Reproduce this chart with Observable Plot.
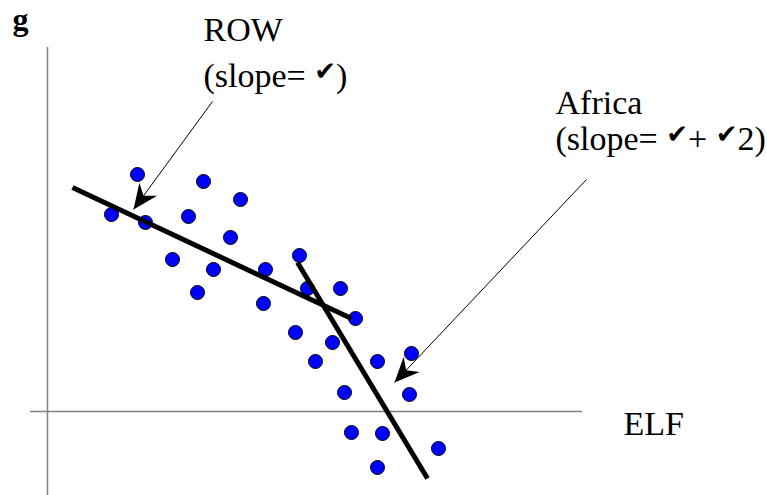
<!DOCTYPE html>
<html>
<head>
<meta charset="utf-8">
<script src="https://cdn.jsdelivr.net/npm/d3@7"></script>
<script src="https://cdn.jsdelivr.net/npm/@observablehq/plot@0.6"></script>
<style>
  html, body { margin: 0; padding: 0; background: #fff; }
  #chart svg { display: block; }
  #chart svg text { font-family: "Liberation Serif", "Tinos", "Times New Roman", "DejaVu Serif", serif !important; }
  #chart svg tspan.chk { font-family: "DejaVu Sans", sans-serif !important; }
</style>
</head>
<body>
<div id="chart"></div>
<script>
// Scatter observations (ELF, g) in chart units
const elf = [1.28, 1.80, 1.96, 2.82, 3.12, 3.86, 3.66, 2.50, 3.32, 3.00, 4.36, 5.04, 4.32, 5.20,
             5.86, 6.16, 4.96, 5.70, 5.36, 6.60, 7.28, 5.94, 7.24, 6.08, 6.70, 7.82, 6.60];
const g   = [3.94, 4.74, 3.78, 3.90, 4.60, 4.24, 3.48, 3.04, 2.84, 2.38, 2.84, 3.12, 2.16, 2.46,
             2.46, 1.86, 1.58, 1.38, 1.00, 1.00, 1.16, 0.38, 0.34, -0.42, -0.44, -0.74, -1.12];

// Fitted lines: [x1, y1, x2, y2]
const lineNames = ["ROW", "Africa"];
const lineEnds  = [[0.50, 4.48, 6.08, 1.86], [5.00, 2.98, 7.60, -1.34]];

// Axis extents
const xAxisLine = [-0.34, 10.70];   // horizontal axis at g = 0
const yAxisLine = [-1.68, 7.28];    // vertical axis at ELF = 0

// Annotation texts and their anchor points
const labelTexts = ["g", "ROW", "(slope= ✔)", "Africa", "(slope= ✔+ ✔2)", "ELF"];
const labelX     = [-0.70, 3.12, 3.12, 10.16, 10.16, 11.52];
const labelY     = [7.83, 7.62, 6.70, 6.16, 5.44, -0.26];

// Callout arrows: from label to line
const arrowFrom = [[3.30, 6.20], [10.78, 4.64]];
const arrowTo   = [[1.72, 4.04], [6.94, 0.58]];

const points = elf.map((x, i) => ({x, y: g[i]}));
const fits = lineNames.map((name, i) => ({name, x1: lineEnds[i][0], y1: lineEnds[i][1], x2: lineEnds[i][2], y2: lineEnds[i][3]}));
const labels = labelTexts.map((text, i) => ({text, x: labelX[i], y: labelY[i], bold: text === "g"}));
const arrows = arrowFrom.map((f, i) => ({x1: f[0], y1: f[1], x2: arrowTo[i][0], y2: arrowTo[i][1]}));

const serif = "'Liberation Serif', Tinos, 'Times New Roman', 'DejaVu Serif', serif";

const chart = Plot.plot({
  width: 767,
  height: 495,
  margin: 0,
  style: {background: "white"},
  x: {domain: [-0.94, 14.40], axis: null},
  y: {domain: [-1.68, 8.22], axis: null},
  marks: [
    Plot.ruleY([0], {x1: xAxisLine[0], x2: xAxisLine[1], stroke: "#808080", strokeWidth: 1.5}),
    Plot.ruleX([0], {y1: yAxisLine[0], y2: yAxisLine[1], stroke: "#808080", strokeWidth: 1.5}),
    Plot.dot(points, {x: "x", y: "y", r: 7, fill: "#0000ff", stroke: "black", strokeWidth: 1}),
    Plot.link(fits, {x1: "x1", y1: "y1", x2: "x2", y2: "y2", stroke: "black", strokeWidth: 5}),
    Plot.link(arrows, {x1: "x1", y1: "y1", x2: "x2", y2: "y2", stroke: "black", strokeWidth: 1, markerEnd: "arrow"}),
    Plot.text(labels.filter(d => !d.bold), {x: "x", y: "y", text: "text", textAnchor: "start", fontSize: 34, fontFamily: serif, fill: "black"}),
    Plot.text(labels.filter(d => d.bold), {x: "x", y: "y", text: "text", textAnchor: "start", fontSize: 32, fontWeight: "bold", fontFamily: serif, fill: "black"})
  ]
});

// Turn the arrow markers into filled, notched arrowheads
chart.querySelectorAll("marker").forEach(m => {
  m.setAttribute("markerUnits", "userSpaceOnUse");
  m.setAttribute("viewBox", "-27 -13 28 26");
  m.setAttribute("markerWidth", 28);
  m.setAttribute("markerHeight", 26);
  m.setAttribute("fill", "black");
  m.setAttribute("stroke", "none");
  const p = m.querySelector("path");
  if (p) p.setAttribute("d", "M0,0L-25,-11L-17,0L-25,11Z");
});

// Render the slope symbols smaller and raised, as in the original
const NS = "http://www.w3.org/2000/svg";
chart.querySelectorAll("text").forEach(t => {
  const s = t.textContent;
  if (!s.includes("✔")) return;
  while (t.firstChild) t.removeChild(t.firstChild);
  const parts = s.split("✔");
  parts.forEach((part, i) => {
    if (i > 0) {
      const c = document.createElementNS(NS, "tspan");
      c.setAttribute("class", "chk");
      c.setAttribute("font-size", "26");
      c.setAttribute("dy", "-7");
      c.textContent = "✔";
      t.appendChild(c);
    }
    if (part) {
      const r = document.createElementNS(NS, "tspan");
      if (i > 0) r.setAttribute("dy", "7");
      r.textContent = part;
      t.appendChild(r);
    }
  });
});

document.getElementById("chart").appendChild(chart);
</script>
</body>
</html>
